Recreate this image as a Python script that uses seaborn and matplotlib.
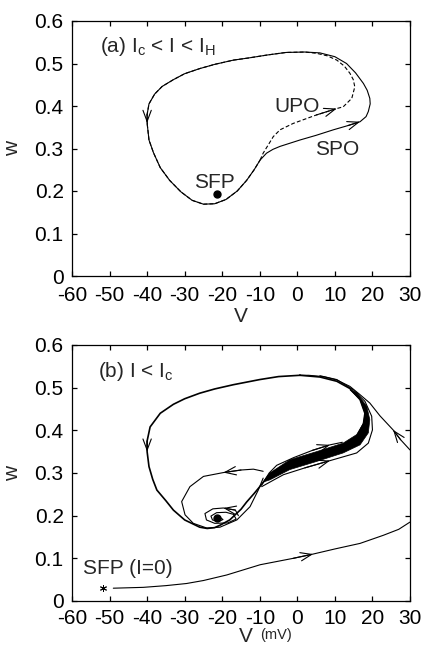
import numpy as np
import matplotlib
matplotlib.use("Agg")
import matplotlib.pyplot as plt
import seaborn as sns

# ---------------- panel (a): I_c < I < I_H ----------------
# stable periodic orbit (SPO), counter-clockwise, starting on the left branch
spo_v = [-40.0, -39.5, -38.3, -36.5, -34.0, -31.0, -28.0, -25.0, -22.0, -19.0,
         -16.0, -13.5, -11.5, -9.9, -8.2, -6.5, -4.6, 0.7, 5.0, 9.6,
         13.5, 16.7, 18.3, 18.9, 19.4, 19.3, 18.6, 17.6, 15.5, 13.1,
         10.0, 6.0, 2.0, -3.0, -8.0, -13.0, -17.0, -22.0, -26.0, -30.0,
         -33.0, -36.0, -38.0, -39.5, -40.0, -40.0]
spo_w = [0.360, 0.320, 0.290, 0.255, 0.225, 0.198, 0.178, 0.169, 0.170, 0.180,
         0.200, 0.225, 0.250, 0.273, 0.289, 0.298, 0.305, 0.320, 0.331, 0.344,
         0.354, 0.363, 0.375, 0.387, 0.405, 0.418, 0.437, 0.453, 0.478, 0.500,
         0.516, 0.525, 0.527, 0.526, 0.520, 0.513, 0.508, 0.498, 0.488, 0.476,
         0.462, 0.446, 0.428, 0.405, 0.380, 0.360]

# unstable periodic orbit (UPO), starting at the point where it leaves the SPO
upo_v = [-9.9, -9.1, -7.5, -6.4, -4.6, -1.1, 5.1, 10.5, 12.2, 14.5,
         15.3, 14.9, 14.0, 12.5, 10.5, 8.0, 5.1, 2.0, -3.0, -8.0,
         -13.0, -17.0, -22.0, -26.0, -30.0, -33.0, -36.0, -38.0, -39.5, -40.0,
         -40.0, -39.5, -38.3, -36.5, -34.0, -31.0, -28.0, -25.0, -22.0, -19.0,
         -16.0, -13.5, -11.5, -9.9]
upo_w = [0.273, 0.289, 0.312, 0.328, 0.344, 0.359, 0.379, 0.394, 0.398, 0.418,
         0.445, 0.462, 0.477, 0.494, 0.508, 0.518, 0.524, 0.527, 0.526, 0.520,
         0.513, 0.508, 0.498, 0.488, 0.476, 0.462, 0.446, 0.428, 0.405, 0.380,
         0.360, 0.320, 0.290, 0.255, 0.225, 0.198, 0.178, 0.169, 0.170, 0.180,
         0.200, 0.225, 0.250, 0.273]

sfp_a = (-21.5, 0.193)

# ---------------- panel (b): I < I_c ----------------
# trajectory entering from the right edge
in_v = [30.0, 27.5, 25.5, 22.0, 19.3, 16.5, 14.0, 10.5, 6.9, 3.0, 0.7]
in_w = [0.354, 0.378, 0.401, 0.434, 0.464, 0.485, 0.503, 0.518, 0.526, 0.529, 0.529]

# slow passage along the ghost of the limit cycle
loop_v = [0.7, -5.0, -10.0, -17.0, -22.0, -26.0, -30.0, -33.0, -36.5, -39.2,
          -40.0, -40.0, -39.5, -38.5, -37.4, -35.0, -33.0, -30.0, -26.0, -24.0,
          -22.0, -20.5, -18.0, -15.0, -13.5, -11.5, -10.0, -9.0, -7.3, -2.0,
          5.1, 12.2, 15.8, 17.6, 18.0, 16.7, 14.0, 10.5, 6.0, 0.7]
loop_w = [0.529, 0.526, 0.519, 0.507, 0.497, 0.487, 0.474, 0.461, 0.440, 0.408,
          0.375, 0.350, 0.315, 0.285, 0.260, 0.235, 0.213, 0.190, 0.173, 0.170,
          0.172, 0.178, 0.190, 0.215, 0.232, 0.252, 0.268, 0.279, 0.298, 0.325,
          0.345, 0.365, 0.385, 0.415, 0.440, 0.472, 0.498, 0.515, 0.525, 0.529]

# dense band of repeated passes (upper and lower envelope)
band_up_v = [-9.0, -7.3, -2.0, 5.1, 12.2, 15.8, 17.6, 18.0, 16.7, 14.0]
band_up_w = [0.279, 0.300, 0.331, 0.350, 0.370, 0.390, 0.417, 0.440, 0.472, 0.495]
band_lo_v = [-9.0, -7.3, -2.0, 5.1, 12.2, 16.7, 18.9, 19.3, 18.5, 15.8, 14.0]
band_lo_w = [0.279, 0.284, 0.308, 0.327, 0.347, 0.366, 0.394, 0.425, 0.456, 0.488, 0.495]

# single passes just outside the band
upper_v = [-9.5, -7.5, -5.5, -1.0, 4.0, 8.7, 12.0]
upper_w = [0.272, 0.300, 0.318, 0.336, 0.353, 0.366, 0.372]
lower_v = [-9.5, -6.0, -3.7, 2.0, 8.7, 15.8, 18.9, 20.0, 19.8, 18.0, 14.9, 10.5, 6.0]
lower_w = [0.268, 0.285, 0.296, 0.312, 0.329, 0.347, 0.370, 0.401, 0.433, 0.468,
           0.495, 0.519, 0.528]

# inner excursion after leaving the band
inner_v = [-9.1, -11.7, -15.0, -19.7, -25.0, -28.6, -30.8, -29.9, -27.7, -24.1,
           -20.6, -16.1, -12.6, -10.4, -9.1]
inner_w = [0.304, 0.309, 0.307, 0.301, 0.292, 0.268, 0.233, 0.202, 0.182, 0.171,
           0.173, 0.190, 0.221, 0.260, 0.288]

# spiral into the stable fixed point
spiral_v = [-15.7, -16.5, -19.7, -22.5, -24.6, -24.2, -22.0, -18.5, -16.3, -17.0,
            -19.0, -21.5, -23.0, -22.6, -21.0, -19.8, -20.6, -21.3]
spiral_w = [0.200, 0.213, 0.218, 0.216, 0.205, 0.190, 0.182, 0.183, 0.192, 0.203,
            0.208, 0.207, 0.199, 0.190, 0.186, 0.191, 0.196, 0.194]
sfp_b = (-21.3, 0.194)

# trajectory starting from the I=0 resting state
rest_v = [-49.0, -41.0, -35.0, -29.5, -25.0, -18.8, -9.9, -1.1, 4.2, 10.0,
          16.7, 22.9, 27.0, 30.0]
rest_w = [0.030, 0.032, 0.036, 0.041, 0.048, 0.061, 0.085, 0.100, 0.110, 0.122,
          0.135, 0.154, 0.168, 0.185]
sfp_rest = (-51.7, 0.030)

x_ticks = [-60, -50, -40, -30, -20, -10, 0, 10, 20, 30]
y_ticks = [0, 0.1, 0.2, 0.3, 0.4, 0.5, 0.6]
y_ticklabels = ["0", "0.1", "0.2", "0.3", "0.4", "0.5", "0.6"]

# ---------------- style ----------------
sns.set_style("ticks")
plt.rcParams["font.family"] = ["Liberation Sans", "DejaVu Sans"]
plt.rcParams["mathtext.fontset"] = "custom"
plt.rcParams["mathtext.rm"] = "Liberation Sans"
plt.rcParams["mathtext.it"] = "Liberation Sans"
plt.rcParams["mathtext.default"] = "regular"
plt.rcParams["axes.unicode_minus"] = False

FS = 15
THIN = 0.8

fig = plt.figure(figsize=(4.27, 6.46), dpi=100)
ax_a = fig.add_axes([72 / 427, 1 - 276 / 646, 338 / 427, 255 / 646])
ax_b = fig.add_axes([72 / 427, 1 - 601 / 646, 338 / 427, 256 / 646])


def curve(ax, v, w, lw=THIN, ls="-"):
    sns.lineplot(x=v, y=w, sort=False, estimator=None, ax=ax, color="k",
                 lw=lw, linestyle=ls)


def arrow(ax, v, w, i, lw=THIN):
    ax.annotate("", xy=(v[i + 1], w[i + 1]), xytext=(v[i], w[i]),
                arrowprops=dict(arrowstyle="->,head_length=0.8,head_width=0.3",
                                lw=lw, color="k", shrinkA=0, shrinkB=0,
                                mutation_scale=10))


def style_axes(ax, xpad):
    ax.set_xlim(-60, 30)
    ax.set_ylim(0, 0.6)
    ax.set_xticks(x_ticks)
    ax.set_xticklabels([str(t) for t in x_ticks])
    ax.set_yticks(y_ticks)
    ax.set_yticklabels(y_ticklabels)
    ax.tick_params(direction="in", top=True, right=True, length=3.3,
                   width=0.9, labelsize=FS, colors="k")
    ax.tick_params(axis="x", pad=xpad)
    ax.tick_params(axis="y", pad=6)
    for s in ax.spines.values():
        s.set_linewidth(0.9)
        s.set_color("k")
    ax.set_ylabel("w", fontsize=FS)
    ax.yaxis.set_label_coords(-0.148, 0.5)


# ---- panel (a)
curve(ax_a, spo_v, spo_w)
curve(ax_a, upo_v, upo_w, ls=(0, (3.5, 2)))
arrow(ax_a, spo_v, spo_w, len(spo_v) - 2)
arrow(ax_a, spo_v, spo_w, 20)
arrow(ax_a, upo_v, upo_w, 6)
ax_a.plot(*sfp_a, "o", color="k", ms=5)
ax_a.text(-52.5, 0.566, r"(a) $I_c$ < I < $I_H$", fontsize=FS, va="top", ha="left")
ax_a.text(-22.1, 0.220, "SFP", fontsize=FS, ha="center", va="center")
ax_a.text(0.0, 0.400, "UPO", fontsize=FS, ha="center", va="center")
ax_a.text(10.7, 0.297, "SPO", fontsize=FS, ha="center", va="center")
style_axes(ax_a, xpad=7)
ax_a.set_xlabel("V", fontsize=FS)
ax_a.xaxis.set_label_coords(0.5, -0.12)

# ---- panel (b)
band_v = band_up_v + band_lo_v[::-1]
band_w = band_up_w + band_lo_w[::-1]
ax_b.fill(band_v, band_w, color="k", lw=0.5)
curve(ax_b, loop_v, loop_w, lw=1.2)
curve(ax_b, in_v, in_w)
curve(ax_b, upper_v, upper_w)
curve(ax_b, lower_v, lower_w)
curve(ax_b, inner_v, inner_w)
curve(ax_b, spiral_v, spiral_w)
curve(ax_b, rest_v, rest_w)
arrow(ax_b, in_v, in_w, 1)
arrow(ax_b, loop_v, loop_w, 10)
arrow(ax_b, upper_v, upper_w, 4)
arrow(ax_b, lower_v, lower_w, 3)
arrow(ax_b, inner_v, inner_w, 2)
arrow(ax_b, spiral_v, spiral_w, 1)
arrow(ax_b, rest_v, rest_w, 7)
ax_b.plot(*sfp_b, "o", color="k", ms=5)
ax_b.plot(*sfp_rest, marker=(6, 2, 0), color="k", ms=5, mew=0.7, ls="none")
ax_b.text(-53.0, 0.566, r"(b) I < $I_c$", fontsize=FS, va="top", ha="left")
ax_b.text(-57.0, 0.076, "SFP (I=0)", fontsize=FS, ha="left", va="center")
style_axes(ax_b, xpad=6)
ax_b.set_xlabel("V", fontsize=FS)
ax_b.xaxis.set_label_coords(0.515, -0.1)
ax_b.text(0.556, -0.148, "(mV)", fontsize=10.5, transform=ax_b.transAxes,
          ha="left", va="baseline")

fig.savefig("out.png", dpi=100)
